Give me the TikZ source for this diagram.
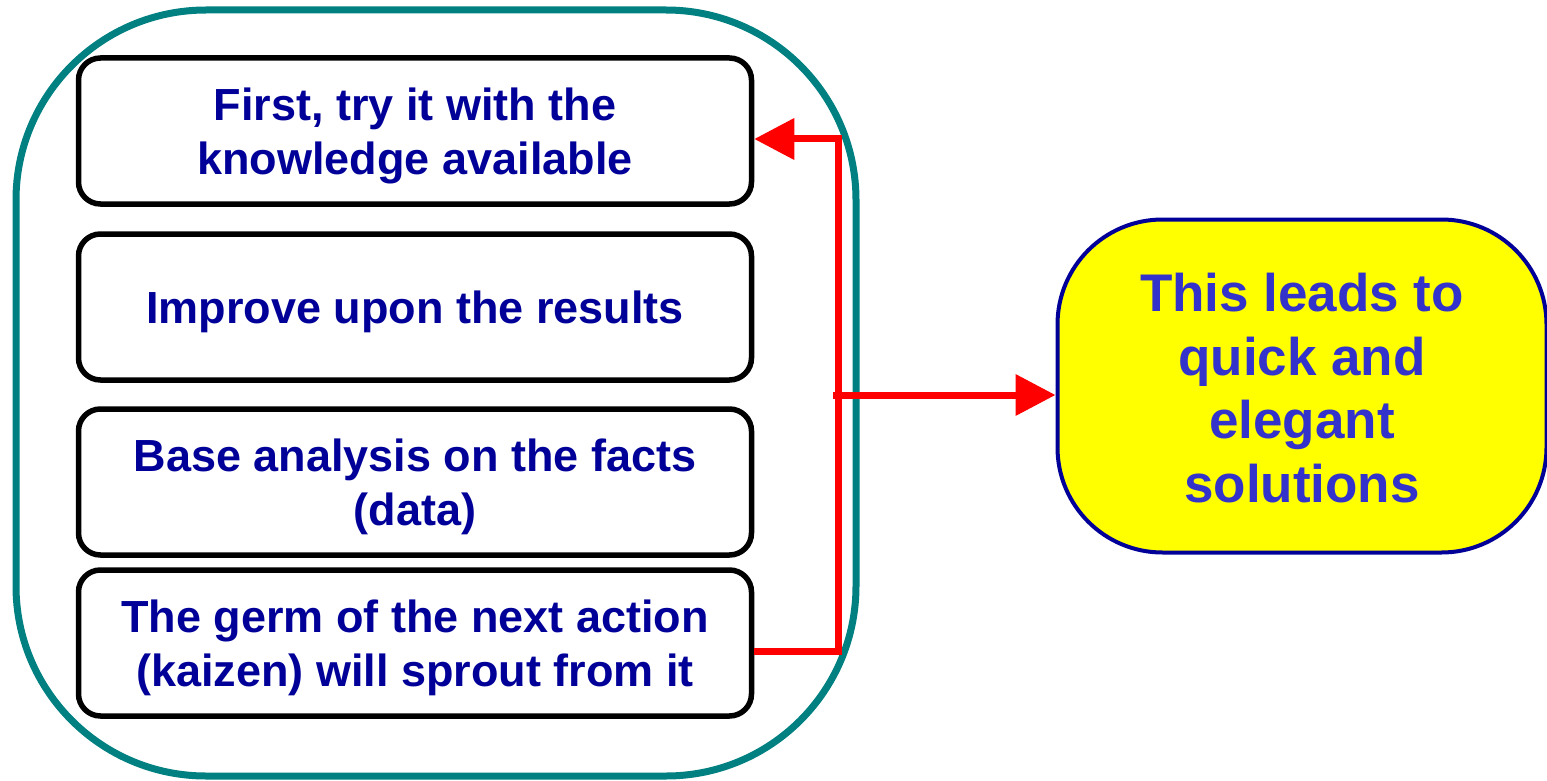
\documentclass[tikz,border=0pt]{standalone}
\usepackage{fontspec}
\setmainfont{Liberation Sans}
\usetikzlibrary{arrows.meta}
\definecolor{teal}{HTML}{008080}
\definecolor{navy}{HTML}{000099}
\definecolor{softblue}{HTML}{3333CC}
\definecolor{sunny}{HTML}{FFFF00}
\definecolor{redline}{HTML}{FF0000}
\begin{document}
\begin{tikzpicture}[x=1pt,y=-1pt,
  stepbox/.style={draw=black,line width=5.5pt,rounded corners=22pt,fill=white,
    minimum width=673pt,minimum height=146pt,inner sep=0pt},
  steptext/.style={align=center,text=navy,inner sep=0pt,yshift=-5pt,
    font=\fontsize{45}{54}\selectfont\bfseries},
  frame/.style={draw=teal,line width=7pt,rounded corners=190pt,
    minimum width=840pt,minimum height=766pt,inner sep=0pt},
  result/.style={draw=navy,line width=4pt,rounded corners=105pt,fill=sunny,
    minimum width=489pt,minimum height=333pt,inner sep=0pt},
  resulttext/.style={align=center,text=softblue,inner sep=0pt,yshift=-2pt,
    font=\fontsize{53}{63.5}\selectfont\bfseries},
  loopline/.style={draw=redline,line width=7pt,line join=miter},
  tip/.style={-{Triangle[length=40pt,width=40pt]}}]
\useasboundingbox (0,0) rectangle (1547,781);

% outer frame around the four steps
\node[frame] (outer) at (436,393) {};

% the steps
\node[stepbox,label={[steptext]center:{First, try it with the\\knowledge available}}] (b1) at (415,131) {};
\node[stepbox,label={[steptext]center:{Improve upon the results}}] (b2) at (415,307) {};
\node[stepbox,label={[steptext]center:{Base analysis on the facts\\(data)}}] (b3) at (415,482) {};
\node[stepbox,label={[steptext]center:{The germ of the next action\\(kaizen) will sprout from it}}] (b4) at (415,643) {};

% outcome
\node[result,label={[resulttext]center:{This leads to\\quick and\\elegant\\solutions}}] (res) at (1302,386) {};

% feedback loop from the last step back to the first
\coordinate (low) at (838,651);
\coordinate (high) at (838,139);
\coordinate (spine) at (833,395);
\draw[loopline,tip] (b4.east |- low) -- (low) -- (high) -- (b1.east |- high);

% branch out to the outcome
\draw[loopline,tip] (spine) -- (res.west |- spine);
\end{tikzpicture}
\end{document}
